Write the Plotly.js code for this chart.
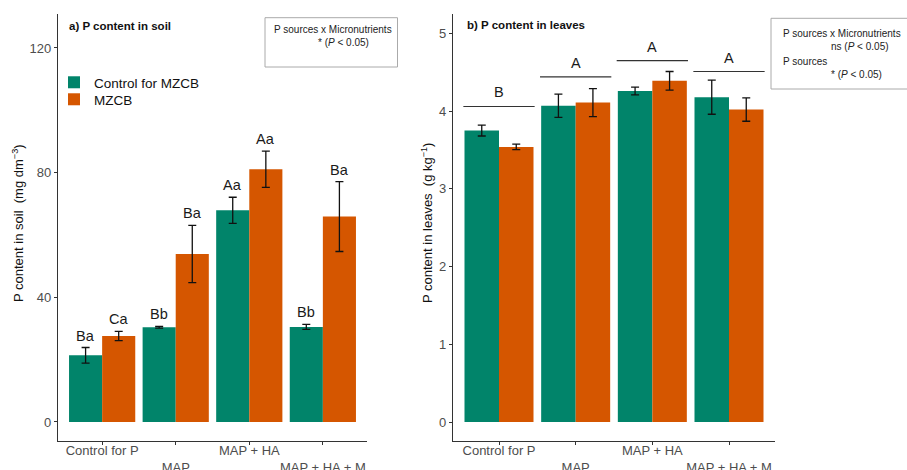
<!DOCTYPE html>
<html>
<head>
<meta charset="utf-8">
<script src="https://cdn.plot.ly/plotly-3.0.1.min.js"></script>
<style>
  html, body { margin: 0; padding: 0; background: #fff; }
  #chart { width: 907px; height: 470px; }
</style>
</head>
<body>
<div id="chart"></div>
<script>
// Treatments and their staggered axis labels
const categories = ['Control for P', 'MAP', 'MAP + HA', 'MAP + HA + M'];
const tickLabels = ['Control for P', '<br>MAP', 'MAP + HA', '<br>MAP + HA + M'];

// a) P content in soil (mg dm-3)
const soilControl = [21.4, 30.4, 67.9, 30.5];
const soilControlErr = [2.5, 0.3, 4.2, 0.8];
const soilMZCB = [27.6, 53.9, 81.1, 65.9];
const soilMZCBErr = [1.5, 9.2, 5.8, 11.2];
const soilControlLetters = ['Ba', 'Bb', 'Aa', 'Bb'];
const soilMZCBLetters = ['Ca', 'Ba', 'Aa', 'Ba'];

// b) P content in leaves (g kg-1)
const leafControl = [3.75, 4.07, 4.26, 4.18];
const leafControlErr = [0.07, 0.15, 0.05, 0.22];
const leafMZCB = [3.54, 4.11, 4.39, 4.02];
const leafMZCBErr = [0.035, 0.18, 0.12, 0.15];
const leafGroupLetters = ['B', 'A', 'A', 'A'];
const leafGroupLevels = [4.06, 4.44, 4.65, 4.51];

const GREEN = '#01846A';
const ORANGE = '#D55600';
const FONT = 'Liberation Sans, Arial, sans-serif';
const BAR_OFFSET = 0.225;   // half of one bar width within a 0.9-wide group

function errBar(arr) {
  return { type: 'data', array: arr, visible: true, color: '#111', thickness: 1.3, width: 4 };
}

const traces = [
  { type: 'bar', name: 'Control for MZCB', x: categories, y: soilControl, error_y: errBar(soilControlErr),
    marker: { color: GREEN, line: { width: 0 } }, xaxis: 'x', yaxis: 'y', legend: 'legend' },
  { type: 'bar', name: 'MZCB', x: categories, y: soilMZCB, error_y: errBar(soilMZCBErr),
    marker: { color: ORANGE, line: { width: 0 } }, xaxis: 'x', yaxis: 'y', legend: 'legend2' },
  { type: 'bar', name: 'Control for MZCB', x: categories, y: leafControl, error_y: errBar(leafControlErr),
    marker: { color: GREEN, line: { width: 0 } }, xaxis: 'x2', yaxis: 'y2', showlegend: false },
  { type: 'bar', name: 'MZCB', x: categories, y: leafMZCB, error_y: errBar(leafMZCBErr),
    marker: { color: ORANGE, line: { width: 0 } }, xaxis: 'x2', yaxis: 'y2', showlegend: false }
];

const annotations = [];
const shapes = [];

// letters above each soil bar
categories.forEach((c, i) => {
  annotations.push({ xref: 'x', yref: 'y', x: i - BAR_OFFSET, y: soilControl[i] + soilControlErr[i],
    text: soilControlLetters[i], showarrow: false, yanchor: 'bottom', yshift: 2,
    font: { family: FONT, size: 14.5, color: '#1a1a1a' } });
  annotations.push({ xref: 'x', yref: 'y', x: i + BAR_OFFSET, y: soilMZCB[i] + soilMZCBErr[i],
    text: soilMZCBLetters[i], showarrow: false, yanchor: 'bottom', yshift: 2,
    font: { family: FONT, size: 14.5, color: '#1a1a1a' } });
});

// group brackets and letters for leaves
categories.forEach((c, i) => {
  shapes.push({ type: 'line', xref: 'x2', yref: 'y2', x0: i - 0.465, x1: i + 0.465,
    y0: leafGroupLevels[i], y1: leafGroupLevels[i], line: { color: '#333', width: 1.2 } });
  annotations.push({ xref: 'x2', yref: 'y2', x: i, y: leafGroupLevels[i],
    text: leafGroupLetters[i], showarrow: false, yanchor: 'bottom', yshift: 4,
    font: { family: FONT, size: 14.5, color: '#1a1a1a' } });
});

function px(x) { return x / 907; }
function py(y) { return 1 - y / 470; }

// panel titles
annotations.push({ xref: 'paper', yref: 'paper', x: px(67), y: py(26), xanchor: 'left', yanchor: 'middle',
  text: '<b>a) P content in soil</b>', showarrow: false, font: { family: FONT, size: 11.5, color: '#111' } });
annotations.push({ xref: 'paper', yref: 'paper', x: px(465), y: py(25), xanchor: 'left', yanchor: 'middle',
  text: '<b>b) P content in leaves</b>', showarrow: false, font: { family: FONT, size: 11.5, color: '#111' } });

// y axis titles
const titleFont = { family: FONT, size: 13, color: '#111' };
annotations.push({ xref: 'paper', yref: 'paper', x: px(18), y: py(223), xanchor: 'center', yanchor: 'middle',
  textangle: -90, text: 'P content in soil  (mg dm<sup>−3</sup>)', showarrow: false, font: titleFont });
annotations.push({ xref: 'paper', yref: 'paper', x: px(427), y: py(223), xanchor: 'center', yanchor: 'middle',
  textangle: -90, text: 'P content in leaves  (g kg<sup>−1</sup>)', showarrow: false, font: titleFont });

// statistics boxes
shapes.push({ type: 'rect', xref: 'paper', yref: 'paper', x0: px(265), x1: px(397.5), y0: py(17.7), y1: py(67),
  line: { color: '#aaa', width: 1 }, fillcolor: 'rgba(0,0,0,0)' });
shapes.push({ type: 'rect', xref: 'paper', yref: 'paper', x0: px(771), x1: px(915), y0: py(18.3), y1: py(89),
  line: { color: '#aaa', width: 1 }, fillcolor: 'rgba(0,0,0,0)' });

const statFont = { family: FONT, size: 10, color: '#222' };
function statText(x, y, text) {
  annotations.push({ xref: 'paper', yref: 'paper', x: px(x), y: py(y), xanchor: 'left', yanchor: 'middle',
    text: text, showarrow: false, font: statFont });
}
statText(271.5, 29, 'P sources x Micronutrients');
statText(315.5, 43, '* (<i>P</i> &lt; 0.05)');
statText(781, 33, 'P sources x Micronutrients');
statText(829, 47, 'ns (<i>P</i> &lt; 0.05)');
statText(781, 62, 'P sources');
statText(829, 74, '* (<i>P</i> &lt; 0.05)');

const tickFont = { family: FONT, size: 13, color: '#4d4d4d' };
const yDomain = [1 - 441 / 470, 1 - 14 / 470];

function xAxis(domain, anchor) {
  return { domain: domain, anchor: anchor, type: 'category', range: [-0.6, 3.6],
    tickmode: 'array', tickvals: categories, ticktext: tickLabels, tickangle: 0,
    ticks: 'outside', ticklen: 3, tickcolor: '#333', tickwidth: 1, ticklabelstandoff: -6,
    showline: true, linecolor: '#333', linewidth: 1.2, showgrid: false, zeroline: false,
    tickfont: tickFont, fixedrange: true };
}
function yAxis(anchor, range, tickvals) {
  return { domain: yDomain, anchor: anchor, range: range, tickmode: 'array', tickvals: tickvals,
    ticks: 'outside', ticklen: 3, tickcolor: '#333', tickwidth: 1,
    showline: true, linecolor: '#333', linewidth: 1.2, showgrid: false, zeroline: false,
    tickfont: tickFont, fixedrange: true };
}

const legendBase = {
  x: px(54), xanchor: 'left', yanchor: 'top', bgcolor: 'rgba(0,0,0,0)',
  font: { family: FONT, size: 13.5, color: '#111' }
};

const layout = {
  width: 907, height: 470,
  margin: { l: 0, r: 0, t: 0, b: 0 },
  paper_bgcolor: '#fff', plot_bgcolor: '#fff',
  barmode: 'group', bargap: 0.1, bargroupgap: 0,
  font: { family: FONT },
  showlegend: true,
  legend: Object.assign({}, legendBase, { y: py(67) }),
  legend2: Object.assign({}, legendBase, { y: py(84) }),
  xaxis: xAxis([58 / 907, 367 / 907], 'y'),
  yaxis: yAxis('x', [-6.1, 130.9], [0, 40, 80, 120]),
  xaxis2: xAxis([453 / 907, 775 / 907], 'y2'),
  yaxis2: yAxis('x2', [-0.244, 5.25], [0, 1, 2, 3, 4, 5]),
  annotations: annotations,
  shapes: shapes
};

Plotly.newPlot('chart', traces, layout, { displayModeBar: false, staticPlot: true });
</script>
</body>
</html>
